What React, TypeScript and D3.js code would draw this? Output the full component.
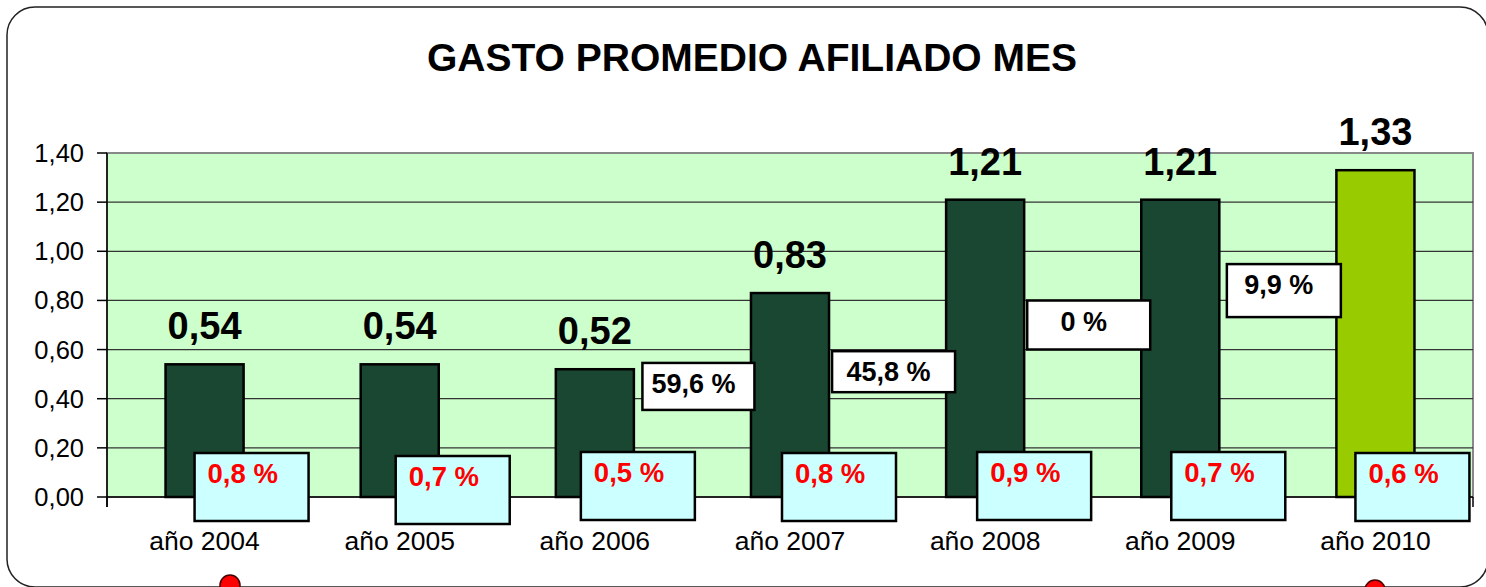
import { useEffect, useRef } from "react";
import * as d3 from "d3";

// chart values
const years = ["año 2004", "año 2005", "año 2006", "año 2007", "año 2008", "año 2009", "año 2010"];
const gasto = [0.54, 0.54, 0.52, 0.83, 1.21, 1.21, 1.33];
const share = [0.8, 0.7, 0.5, 0.8, 0.9, 0.7, 0.6];
// year-on-year growth, shown between year i and i+1
const growth = [
  { from: 2, value: 59.6 },
  { from: 3, value: 45.8 },
  { from: 4, value: 0 },
  { from: 5, value: 9.9 },
];
const yTicks = [0, 0.2, 0.4, 0.6, 0.8, 1.0, 1.2, 1.4];

// hand placed annotation boxes (like in the original sheet)
const shareNudge = [-10, -4, -14, -8, -8, -9, -20];
const shareTopNudge = [0, 3, -1, 0, -1, -1, 0];
const growthLevel = [0.45, 0.51, 0.7, 0.84];
const growthSize = [
  [112, 47],
  [123, 41],
  [123, 49],
  [114, 53],
];

const W = 1486;
const H = 587;
const margin = { top: 153, right: 13, bottom: 90, left: 107 };
const FONT = "'Liberation Sans', Arial, sans-serif";
const fmt = (v: number, d: number) => v.toFixed(d).replace(".", ",");

const App = () => {
  const svgRef = useRef<SVGSVGElement>(null);

  useEffect(() => {
    const svg = d3.select(svgRef.current);
    svg.selectAll("*").remove();

    const x0 = margin.left;
    const x1 = W - margin.right;
    const yBottom = H - margin.bottom;

    const x = d3.scaleBand().domain(years).range([x0, x1]).paddingInner(0.6).paddingOuter(0.3);
    const y = d3.scaleLinear().domain([0, 1.4]).range([yBottom, margin.top]);
    const step = x.step();

    // outer frame
    svg
      .append("rect")
      .attr("x", 7)
      .attr("y", 7)
      .attr("width", 1481)
      .attr("height", 580)
      .attr("rx", 28)
      .attr("fill", "white")
      .attr("stroke", "#222")
      .attr("stroke-width", 1.5);

    svg
      .append("text")
      .attr("x", 752)
      .attr("y", 71)
      .attr("text-anchor", "middle")
      .attr("font-family", FONT)
      .attr("font-weight", "bold")
      .attr("font-size", 39)
      .text("GASTO PROMEDIO AFILIADO MES");

    // plot area
    svg
      .append("rect")
      .attr("x", x0)
      .attr("y", margin.top)
      .attr("width", x1 - x0)
      .attr("height", yBottom - margin.top)
      .attr("fill", "#ccffcc")
      .attr("stroke", "#888")
      .attr("stroke-width", 2);

    svg
      .append("g")
      .selectAll("line")
      .data(yTicks.filter((t) => t > 0 && t < 1.4))
      .join("line")
      .attr("x1", x0)
      .attr("x2", x1)
      .attr("y1", (d) => y(d))
      .attr("y2", (d) => y(d))
      .attr("stroke", "#333")
      .attr("stroke-width", 1.3);

    // y axis
    const yAxis = svg.append("g").attr("transform", `translate(${x0},0)`);
    yAxis
      .append("line")
      .attr("y1", margin.top)
      .attr("y2", yBottom + 10)
      .attr("stroke", "#000")
      .attr("stroke-width", 1.5);
    yAxis
      .selectAll("line.tick")
      .data(yTicks)
      .join("line")
      .attr("class", "tick")
      .attr("x1", -10)
      .attr("x2", 0)
      .attr("y1", (d) => y(d))
      .attr("y2", (d) => y(d))
      .attr("stroke", "#000")
      .attr("stroke-width", 1.5);
    yAxis
      .selectAll("text")
      .data(yTicks)
      .join("text")
      .attr("x", -23)
      .attr("y", (d) => y(d) + 9)
      .attr("text-anchor", "end")
      .attr("font-family", FONT)
      .attr("font-size", 25.5)
      .text((d) => fmt(d, 2));

    // bars
    svg
      .append("g")
      .selectAll("rect")
      .data(gasto)
      .join("rect")
      .attr("x", (_, i) => x(years[i])!)
      .attr("y", (d) => y(d))
      .attr("width", x.bandwidth())
      .attr("height", (d) => yBottom - y(d))
      .attr("fill", (_, i) => (i === years.length - 1 ? "#99cc00" : "#1a4731"))
      .attr("stroke", "#000")
      .attr("stroke-width", 2.5);

    svg
      .append("g")
      .selectAll("text")
      .data(gasto)
      .join("text")
      .attr("x", (_, i) => x(years[i])! + x.bandwidth() / 2)
      .attr("y", (d) => y(d) - 25)
      .attr("text-anchor", "middle")
      .attr("font-family", FONT)
      .attr("font-weight", "bold")
      .attr("font-size", 38)
      .text((d) => fmt(d, 2));

    // x axis
    const xAxis = svg.append("g");
    xAxis
      .append("line")
      .attr("x1", x0)
      .attr("x2", x1)
      .attr("y1", yBottom)
      .attr("y2", yBottom)
      .attr("stroke", "#000")
      .attr("stroke-width", 1.5);
    xAxis
      .selectAll("line.tick")
      .data(d3.range(years.length + 1))
      .join("line")
      .attr("class", "tick")
      .attr("x1", (i) => x0 + i * step)
      .attr("x2", (i) => x0 + i * step)
      .attr("y1", yBottom)
      .attr("y2", yBottom + 10)
      .attr("stroke", "#000")
      .attr("stroke-width", 1.5);
    xAxis
      .selectAll("text")
      .data(years)
      .join("text")
      .attr("x", (d) => x(d)! + x.bandwidth() / 2)
      .attr("y", yBottom + 53)
      .attr("text-anchor", "middle")
      .attr("font-family", FONT)
      .attr("font-size", 26.5)
      .text((d) => d);

    // share boxes
    const sb = svg
      .append("g")
      .selectAll("g")
      .data(share)
      .join("g")
      .attr(
        "transform",
        (_, i) => `translate(${x(years[i])! + x.bandwidth() / 2 + shareNudge[i]},${yBottom - 44 + shareTopNudge[i]})`
      );
    sb.append("rect")
      .attr("width", 114)
      .attr("height", 68)
      .attr("fill", "#ccffff")
      .attr("stroke", "#000")
      .attr("stroke-width", 2.5);
    sb.append("text")
      .attr("x", 13)
      .attr("y", 30)
      .attr("fill", "#ff0000")
      .attr("font-family", FONT)
      .attr("font-weight", "bold")
      .attr("font-size", 27.5)
      .text((d) => `${fmt(d, 1)} %`);

    // growth boxes
    const gb = svg
      .append("g")
      .selectAll("g")
      .data(growth)
      .join("g")
      .attr("transform", (d, i) => {
        const cx = x0 + (d.from + 1) * step + 6;
        const [w, h] = growthSize[i];
        return `translate(${cx - w / 2},${y(growthLevel[i]) - h / 2})`;
      });
    gb.append("rect")
      .attr("width", (_, i) => growthSize[i][0])
      .attr("height", (_, i) => growthSize[i][1])
      .attr("fill", "white")
      .attr("stroke", "#000")
      .attr("stroke-width", 2.5);
    gb.append("text")
      .attr("x", (_, i) => growthSize[i][0] / 2 - 5)
      .attr("y", 30)
      .attr("text-anchor", "middle")
      .attr("font-family", FONT)
      .attr("font-weight", "bold")
      .attr("font-size", 27)
      .text((d) => (d.value === 0 ? "0 %" : `${fmt(d.value, 1)} %`));

    // red markers at the bottom edge
    svg
      .append("g")
      .selectAll("circle")
      .data([230, 1375])
      .join("circle")
      .attr("cx", (d) => d)
      .attr("cy", (_, i) => (i === 0 ? 585 : 590))
      .attr("r", 10)
      .attr("fill", "#ff0000")
      .attr("stroke", "#400")
      .attr("stroke-width", 1.5);
  }, []);

  return (
    <svg
      ref={svgRef}
      width={W}
      height={H}
      style={{ position: "absolute", left: 0, top: 0, display: "block" }}
    ></svg>
  );
};

export default App;
